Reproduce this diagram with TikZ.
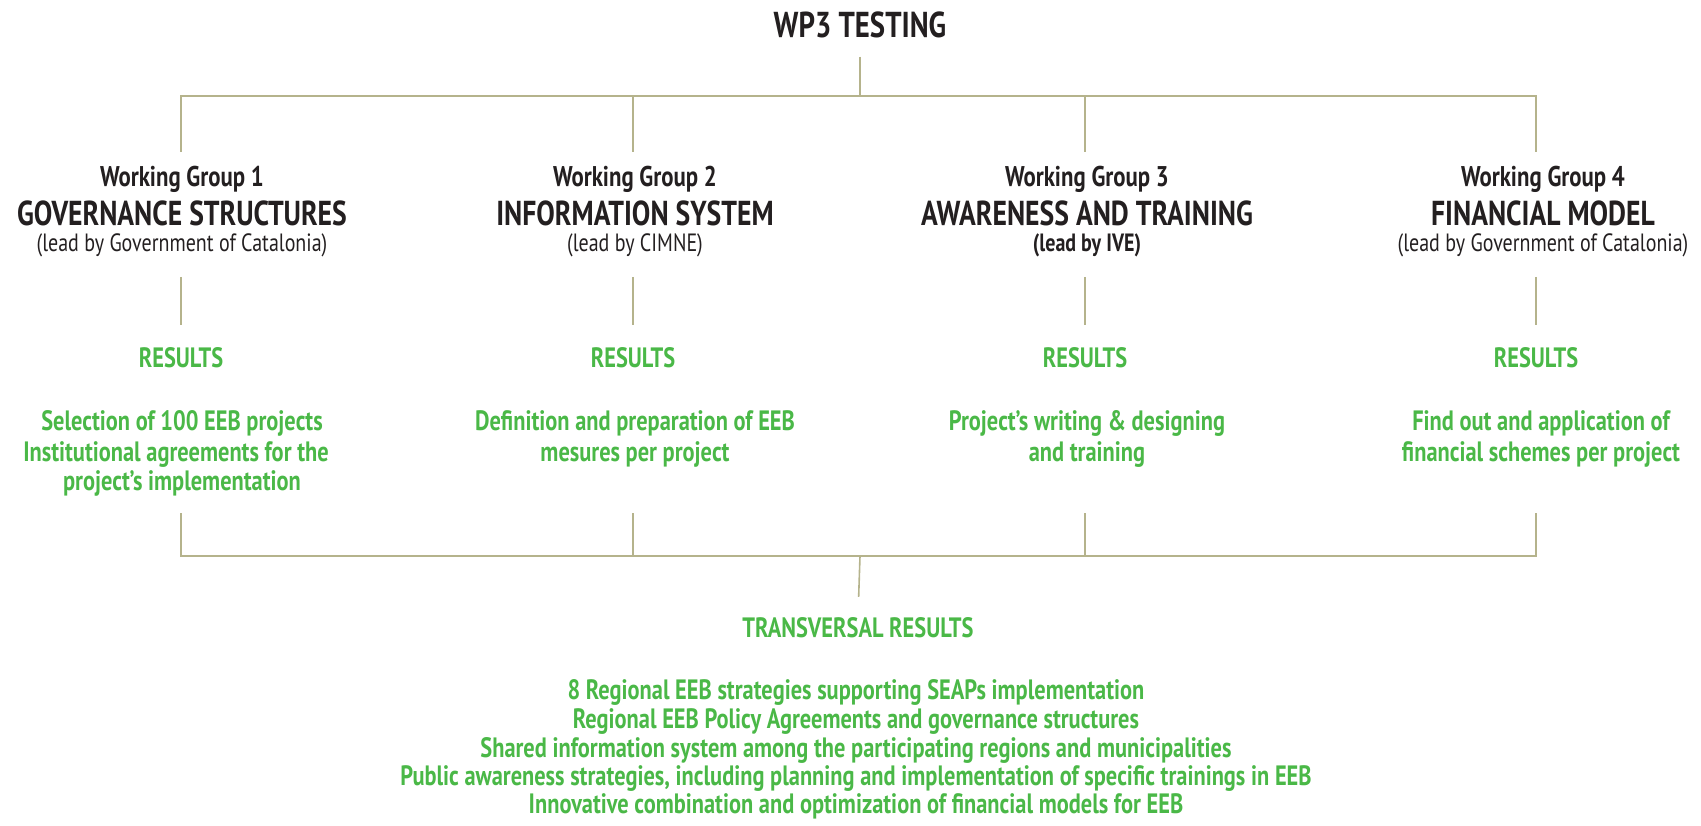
\documentclass[tikz,border=0pt]{standalone}
\usepackage{fontspec}
\setmainfont{PT Sans}[FakeStretch=0.8]

\definecolor{ink}{HTML}{231F20}
\definecolor{leaf}{HTML}{4AB847}
\definecolor{stem}{HTML}{B5B38C}

\begin{document}
\begin{tikzpicture}[x=1pt,y=-1pt,
    every node/.style={anchor=base,inner sep=0pt},
    link/.style={draw=stem,line width=1.6pt},
    head/.style={text=ink,font=\bfseries\fontsize{36}{38}\selectfont},
    wg/.style={text=ink,font=\bfseries\fontsize{28.5}{30}\selectfont},
    grp/.style={text=ink,font=\bfseries\fontsize{34.6}{37}\selectfont},
    lead/.style={text=ink,font=\fontsize{25}{27}\selectfont},
    res/.style={text=leaf,font=\bfseries\fontsize{28}{30}\selectfont},
    resline/.style={text=leaf,font=\bfseries\fontsize{28}{30}\selectfont}]
  \useasboundingbox (0,0) rectangle (1701,826);

  \node[head] (title) at (860,38) {WP3 TESTING};
  \coordinate (bustop) at (860,96);
  \coordinate (busbot) at (860,556);

  % the four working groups (\x = stem, \tx = text centre)
  \foreach \i/\x/\tx/\what/\who/\wt in {
      1/181/182/GOVERNANCE STRUCTURES/Government of Catalonia/\mdseries,
      2/633/635/INFORMATION SYSTEM/CIMNE/\mdseries,
      3/1085/1087/AWARENESS AND TRAINING/IVE/\bfseries,
      4/1536/1543/FINANCIAL MODEL/Government of Catalonia/\mdseries} {
    \node[wg] (wg\i) at (\tx,187) {Working Group \i};
    \node[grp] (grp\i) at (\tx,225.5) {\what};
    \node[lead] (lead\i) at (\tx,252) {\wt(lead by \who)};
    \node[res] (res\i) at (\x,368) {RESULTS};
    \coordinate (up\i) at (\x,152);
    \coordinate (mid\i) at (\x,277);
    \coordinate (low\i) at (\x,513);
    \draw[link] (bustop) -| (up\i);
    \draw[link,shorten >=23pt] (mid\i) -- (res\i.north -| mid\i);
    \draw[link] (low\i) |- (busbot);
  }

  \node[resline] (res1a) at (182,431) {Selection of 100 EEB projects};
  \node[resline] (res1b) at (176,461) {Institutional agreements for the};
  \node[resline] (res1c) at (182,490) {project’s implementation};
  \node[resline] (res2a) at (635,431) {Definition and preparation of EEB};
  \node[resline] (res2b) at (635,461) {mesures per project};
  \node[resline] (res3a) at (1087,431) {Project’s writing \& designing};
  \node[resline] (res3b) at (1087,461) {and training};
  \node[resline] (res4a) at (1541,431) {Find out and application of};
  \node[resline] (res4b) at (1541,461) {financial schemes per project};

  \draw[link,shorten <=18pt] (title.south) -- (bustop);

  % transversal results
  \node[res] (trans) at (858,637) {TRANSVERSAL RESULTS};
  \draw[link,shorten >=20pt] (busbot) -- (trans.north);
  \foreach \j/\y/\t in {
      1/699/{8 Regional EEB strategies supporting SEAPs implementation},
      2/728/{Regional EEB Policy Agreements and governance structures},
      3/757/{Shared information system among the participating regions and municipalities},
      4/785/{Public awareness strategies, including planning and implementation of specific trainings in EEB},
      5/813/{Innovative combination and optimization of financial models for EEB}}
    \node[resline] (tr\j) at (856,\y) {\t};
\end{tikzpicture}
\end{document}
